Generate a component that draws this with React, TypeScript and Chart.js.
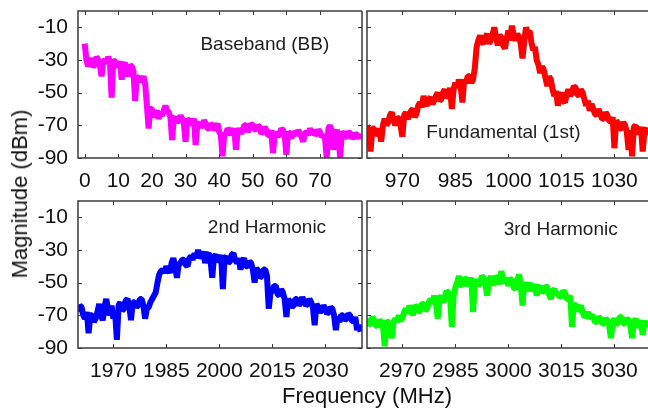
import React, { useEffect, useRef } from "react";
import { Chart, registerables } from "chart.js";
Chart.register(...registerables);

// ---------------- data ----------------
const Y_TICKS = [-90, -70, -50, -30, -10];

// Baseband: samples every 0.5 MHz from 0
const BB_START = 0;
const BB_STEP = 0.5;
const BB_TICKS = [0, 10, 20, 30, 40, 50, 60, 70];
const BB_VALUES = [
  -20, -30, -34, -29, -31, -34, -33, -28, -30, -33, -40, -31, -30, -32, -28, -31, -53, -30, -31, -34,
  -33, -31, -42, -33, -32, -35, -40, -33, -34, -37, -55, -40, -41, -43, -42, -40, -45, -58, -72, -60,
  -60, -65, -63, -61, -66, -63, -64, -61, -58, -61, -62, -65, -79, -66, -65, -68, -67, -64, -66, -69,
  -80, -66, -67, -70, -68, -66, -82, -69, -69, -71, -70, -67, -69, -72, -72, -69, -70, -73, -71, -69,
  -74, -76, -89, -76, -75, -72, -73, -76, -74, -72, -85, -74, -72, -75, -73, -70, -70, -74, -72, -69,
  -70, -72, -73, -70, -71, -75, -74, -71, -73, -76, -76, -73, -87, -76, -74, -77, -75, -72, -73, -76,
  -88, -74, -75, -78, -74, -75, -76, -73, -75, -77, -80, -75, -74, -76, -72, -74, -73, -76, -75, -73,
  -74, -77, -76, -78, -90, -72, -70, -74, -85, -75, -73, -76, -90, -74, -75, -78, -76, -74, -75, -78,
  -77, -75, -76, -78, -75,
];

// Fundamental: samples every 0.5 MHz from 960
const F1_START = 960;
const F1_STEP = 0.5;
const F1_TICKS = [970, 985, 1000, 1015, 1030];
const F1_VALUES = [
  -70, -74, -86, -72, -72, -76, -75, -72, -80, -70, -66, -70, -68, -64, -62, -67, -70, -65, -66, -70,
  -77, -64, -62, -66, -64, -61, -60, -65, -63, -58, -56, -59, -52, -56, -58, -54, -53, -57, -55, -52,
  -50, -55, -54, -50, -48, -53, -52, -47, -60, -48, -44, -47, -42, -46, -56, -42, -44, -40, -40, -44,
  -42, -35, -22, -18, -15, -19, -20, -16, -14, -20, -18, -15, -10, -16, -21, -15, -16, -21, -23, -17,
  -12, -18, -9, -15, -18, -14, -16, -20, -29, -18, -10, -14, -12, -19, -24, -22, -30, -33, -38, -34,
  -36, -41, -46, -40, -42, -48, -52, -49, -58, -52, -50, -55, -56, -51, -48, -52, -50, -46, -47, -51,
  -52, -48, -50, -54, -58, -55, -61, -57, -60, -63, -64, -60, -63, -66, -66, -62, -64, -67, -68, -65,
  -84, -67, -69, -72, -72, -68, -70, -74, -85, -73, -89, -71, -70, -75, -74, -71, -86, -73, -72, -76,
];

// 2nd harmonic: samples every 0.5 MHz from 1960
const H2_START = 1960;
const H2_STEP = 0.5;
const H2_TICKS = [1970, 1985, 2000, 2015, 2030];
const H2_VALUES = [
  -68, -64, -65, -70, -72, -68, -81, -70, -70, -74, -72, -68, -63, -70, -73, -65, -60, -66, -70, -64,
  -72, -68, -85, -64, -62, -67, -66, -61, -60, -64, -73, -62, -62, -65, -64, -60, -60, -64, -72, -66,
  -65, -62, -60, -58, -56, -50, -45, -43, -42, -44, -40, -42, -44, -38, -35, -40, -47, -39, -38, -36,
  -36, -39, -40, -35, -34, -36, -32, -35, -30, -34, -34, -31, -38, -33, -32, -36, -47, -34, -33, -37,
  -36, -33, -54, -35, -34, -38, -37, -33, -32, -36, -38, -35, -42, -37, -35, -40, -40, -37, -38, -42,
  -50, -41, -43, -47, -46, -42, -42, -46, -66, -56, -55, -52, -52, -57, -58, -54, -56, -60, -71, -60,
  -62, -65, -64, -60, -60, -64, -62, -59, -61, -64, -63, -60, -62, -65, -76, -63, -65, -68, -67, -64,
  -66, -69, -68, -65, -66, -70, -79, -71, -74, -70, -70, -73, -72, -69, -70, -73, -74, -71, -79, -76,
  -80,
];

// 3rd harmonic: samples every 0.5 MHz from 2960
const H3_START = 2960;
const H3_STEP = 0.5;
const H3_TICKS = [2970, 2985, 3000, 3015, 3030];
const H3_VALUES = [
  -72, -76, -75, -71, -73, -76, -77, -73, -74, -76, -89, -73, -75, -78, -84, -74, -72, -74, -70, -73,
  -72, -68, -66, -69, -64, -67, -70, -64, -65, -68, -67, -63, -63, -67, -66, -62, -60, -63, -58, -62,
  -72, -60, -58, -62, -60, -55, -56, -59, -77, -58, -53, -50, -46, -51, -52, -47, -48, -52, -50, -47,
  -68, -51, -48, -52, -50, -46, -47, -51, -58, -49, -46, -51, -50, -46, -47, -51, -43, -48, -50, -47,
  -52, -48, -48, -53, -54, -49, -45, -51, -64, -50, -52, -55, -50, -54, -54, -51, -58, -53, -52, -56,
  -55, -52, -53, -57, -60, -55, -54, -57, -56, -59, -58, -55, -56, -60, -60, -58, -77, -63, -64, -67,
  -66, -64, -68, -71, -70, -68, -72, -70, -71, -74, -74, -71, -72, -75, -75, -72, -73, -76, -84, -74,
  -72, -76, -74, -71, -71, -75, -75, -72, -73, -76, -84, -74, -72, -77, -76, -73, -82, -75, -74, -77,
];

// ---------------- plugins ----------------
const FONT = "'Liberation Sans', Arial, Helvetica, sans-serif";

const framePlugin = {
  id: "frame",
  afterDraw(chart: any, _args: any, opts: any) {
    const { ctx, chartArea: a, scales } = chart;
    ctx.save();
    ctx.strokeStyle = "#3c3c3c";
    ctx.lineWidth = 1.5;
    ctx.beginPath();
    if (opts.right) {
      ctx.moveTo(a.right, a.top);
      ctx.lineTo(a.left, a.top);
      ctx.lineTo(a.left, a.bottom);
      ctx.lineTo(a.right, a.bottom);
      ctx.lineTo(a.right, a.top);
    } else {
      ctx.moveTo(a.right + 2, a.top);
      ctx.lineTo(a.left, a.top);
      ctx.lineTo(a.left, a.bottom);
      ctx.lineTo(a.right + 2, a.bottom);
    }
    ctx.stroke();
    ctx.lineWidth = 1;
    ctx.beginPath();
    const tl = 4;
    scales.x.ticks.forEach((t: any) => {
      const px = Math.round(scales.x.getPixelForValue(t.value)) + 0.5;
      ctx.moveTo(px, a.bottom);
      ctx.lineTo(px, a.bottom - tl);
      ctx.moveTo(px, a.top);
      ctx.lineTo(px, a.top + tl);
    });
    scales.y.ticks.forEach((t: any) => {
      const py = Math.round(scales.y.getPixelForValue(t.value)) + 0.5;
      ctx.moveTo(a.left, py);
      ctx.lineTo(a.left + tl, py);
      if (opts.right) {
        ctx.moveTo(a.right, py);
        ctx.lineTo(a.right - tl, py);
      }
    });
    ctx.stroke();
    ctx.restore();
  },
};

const labelPlugin = {
  id: "panelLabel",
  afterDatasetsDraw(chart: any, _args: any, opts: any) {
    const { ctx, scales } = chart;
    ctx.save();
    ctx.font = `19px ${FONT}`;
    ctx.fillStyle = "#1e1e1e";
    ctx.textAlign = "center";
    ctx.textBaseline = "middle";
    ctx.fillText(opts.text, scales.x.getPixelForValue(opts.x), scales.y.getPixelForValue(opts.y));
    ctx.restore();
  },
};

// ---------------- panels ----------------
type Spec = {
  left: number; top: number; width: number; height: number;
  start: number; step: number; values: number[]; ticks: number[];
  min: number; max: number; color: string;
  showY: boolean; yAxisW: number; xAxisH: number; rightBorder: boolean;
  label: string; lx: number; ly: number;
};

const PANELS: Spec[] = [
  {
    left: 0, top: 0, width: 365, height: 200,
    start: BB_START, step: BB_STEP, values: BB_VALUES, ticks: BB_TICKS,
    min: -2, max: 82.5, color: "#ff00ff",
    showY: true, yAxisW: 78, xAxisH: 42, rightBorder: true,
    label: "Baseband (BB)", lx: 53.6, ly: -20.8,
  },
  {
    left: 362, top: 0, width: 286, height: 200,
    start: F1_START, step: F1_STEP, values: F1_VALUES, ticks: F1_TICKS,
    min: 960, max: 1039.5, color: "#ff0000",
    showY: false, yAxisW: 5, xAxisH: 42, rightBorder: false,
    label: "Fundamental (1st)", lx: 998.6, ly: -74.7,
  },
  {
    left: 0, top: 190, width: 365, height: 219,
    start: H2_START, step: H2_STEP, values: H2_VALUES, ticks: H2_TICKS,
    min: 1960, max: 2040.4, color: "#0000ff",
    showY: true, yAxisW: 78, xAxisH: 61, rightBorder: true,
    label: "2nd Harmonic", lx: 2013.5, ly: -16.5,
  },
  {
    left: 362, top: 190, width: 286, height: 219,
    start: H3_START, step: H3_STEP, values: H3_VALUES, ticks: H3_TICKS,
    min: 2960, max: 3039.5, color: "#00ff00",
    showY: false, yAxisW: 5, xAxisH: 61, rightBorder: false,
    label: "3rd Harmonic", lx: 3014.8, ly: -17.8,
  },
];

function zeroPadding(s: any) {
  s.paddingTop = 0;
  s.paddingBottom = 0;
  s.paddingLeft = 0;
  s.paddingRight = 0;
}

function Panel({ spec }: { spec: Spec }) {
  const ref = useRef<HTMLCanvasElement | null>(null);
  useEffect(() => {
    if (!ref.current) return;
    const points = spec.values.map((v, i) => ({ x: spec.start + i * spec.step, y: v }));
    const tickFont = { family: FONT, size: 21 };
    const chart = new Chart(ref.current, {
      type: "line",
      data: {
        datasets: [
          {
            data: points,
            borderColor: spec.color,
            borderWidth: 6,
            pointRadius: 0,
            tension: 0,
            borderJoinStyle: "bevel",
            fill: false,
          },
        ],
      },
      options: {
        animation: false,
        responsive: true,
        maintainAspectRatio: false,
        layout: { padding: { top: 11, left: 0, right: spec.rightBorder ? 3 : 0, bottom: 0 } },
        plugins: {
          legend: { display: false },
          tooltip: { enabled: false },
          frame: { right: spec.rightBorder },
          panelLabel: { text: spec.label, x: spec.lx, y: spec.ly },
        } as any,
        scales: {
          x: {
            type: "linear",
            min: spec.min,
            max: spec.max,
            afterBuildTicks: (s: any) => {
              s.ticks = spec.ticks.map((v) => ({ value: v }));
            },
            afterFit: (s: any) => {
              s.height = spec.xAxisH;
              zeroPadding(s);
            },
            grid: { display: false, drawTicks: false },
            border: { display: false },
            ticks: {
              autoSkip: false,
              maxRotation: 0,
              padding: 11,
              color: "#111",
              font: tickFont,
              callback: (v: any) => String(v),
            },
          },
          y: {
            type: "linear",
            min: -90,
            max: 0,
            afterBuildTicks: (s: any) => {
              s.ticks = Y_TICKS.map((v) => ({ value: v }));
            },
            afterFit: (s: any) => {
              s.width = spec.yAxisW;
              zeroPadding(s);
            },
            grid: { display: false, drawTicks: false },
            border: { display: false },
            ticks: {
              display: spec.showY,
              padding: 10,
              color: "#111",
              font: tickFont,
              callback: (v: any) => String(v),
            },
          },
        },
      },
      plugins: [framePlugin, labelPlugin],
    } as any);
    return () => chart.destroy();
  }, [spec]);
  return (
    <div style={{ position: "absolute", left: spec.left, top: spec.top, width: spec.width, height: spec.height }}>
      <canvas ref={ref} />
    </div>
  );
}

export default function App() {
  return (
    <div style={{ position: "relative", width: 648, height: 409, overflow: "hidden", background: "#fff", fontFamily: FONT }}>
      <style>{`body{margin:0;}`}</style>
      {PANELS.map((p, i) => (
        <Panel key={i} spec={p} />
      ))}
      <div
        style={{
          position: "absolute",
          left: 20,
          top: 194,
          transform: "translate(-50%, -50%) rotate(-90deg)",
          fontSize: 22,
          lineHeight: "22px",
          whiteSpace: "nowrap",
          color: "#111",
        }}
      >
        Magnitude (dBm)
      </div>
      <div
        style={{
          position: "absolute",
          left: 367,
          top: 396,
          transform: "translate(-50%, -50%)",
          fontSize: 22,
          lineHeight: "22px",
          whiteSpace: "nowrap",
          color: "#111",
        }}
      >
        Frequency (MHz)
      </div>
    </div>
  );
}
